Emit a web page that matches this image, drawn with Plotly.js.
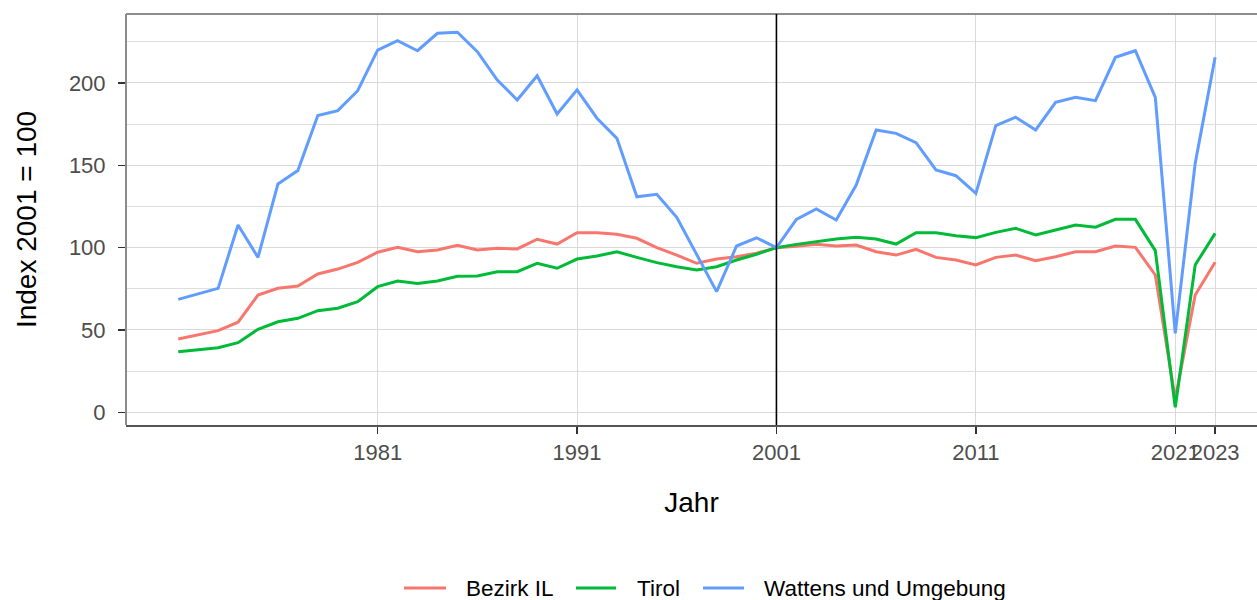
<!DOCTYPE html>
<html>
<head>
<meta charset="utf-8">
<script src="https://cdn.plot.ly/plotly-3.0.1.min.js"></script>
<style>
html, body { margin: 0; padding: 0; background: #fff; }
#chart { width: 1257px; height: 600px; }
</style>
</head>
<body>
<div id="chart"></div>
<script>
const years = [1971,1972,1973,1974,1975,1976,1977,1978,1979,1980,
  1981,1982,1983,1984,1985,1986,1987,1988,1989,1990,
  1991,1992,1993,1994,1995,1996,1997,1998,1999,2000,
  2001,2002,2003,2004,2005,2006,2007,2008,2009,2010,
  2011,2012,2013,2014,2015,2016,2017,2018,2019,2020,
  2021,2022,2023];

const bezirkIL = [44.5,46.9,49.6,54.7,71.2,75.3,76.7,84,87,91.1,
  97.2,100.2,97.5,98.6,101.4,98.6,99.6,99.2,105.1,102.2,
  109.1,109.1,108.1,105.7,100,95.5,90.5,93.1,94.5,96.6,
  100,100.8,102,101,101.6,97.5,95.5,99,94.1,92.5,
  89.5,94.1,95.5,92.1,94.5,97.5,97.5,101,100.2,83.4,
  8,71.2,91.1];

const tirol = [36.8,37.8,39.2,42.3,50.4,55,57.1,61.7,63.2,67.2,
  76.3,79.7,78.3,79.7,82.6,82.8,85.4,85.4,90.5,87.5,
  93.1,94.9,97.5,94.1,90.9,88.4,86.4,88.4,92.5,96,
  100,102,103.6,105.3,106.3,105.3,102.2,109.1,109.1,107.3,
  106.1,109.3,111.7,107.7,110.7,113.8,112.4,117.2,117.2,98.2,
  3,89.5,108.7];

const wattens = [68.6,72,75.3,113.8,94.1,138.7,146.8,180.2,183.2,195.3,
  220,225.7,219.6,230.2,230.8,219,201.8,189.7,204.4,181.2,
  195.8,178.6,166.4,130.9,132.4,118.4,95.5,73.3,101,106,
  100,117.2,123.5,116.8,138,171.5,169.4,163.8,147.2,143.7,
  133,174.1,179.2,171.5,188.3,191.3,189.3,215.6,219.6,191.3,
  48,151.2,215.6];

const seriesNames = ["Bezirk IL", "Tirol", "Wattens und Umgebung"];
const seriesColors = ["#F8766D", "#00BA38", "#619CFF"];
const xTicks = [1981, 1991, 2001, 2011, 2021, 2023];
const yTicks = [0, 50, 100, 150, 200];
const yMinorTicks = [25, 75, 125, 175, 225];
const refYear = 2001;

const font = "Liberation Sans, Arial, sans-serif";
const seriesData = [bezirkIL, tirol, wattens];
const traces = seriesData.map((vals, i) => ({
  x: years, y: vals, type: "scatter", mode: "lines",
  name: seriesNames[i],
  line: { color: seriesColors[i], width: 3 },
  showlegend: false
}));

// Manual bottom legend (ggplot style), positioned in paper coordinates
const W = 1257, H = 600, ML = 126, MR = 0, MT = 14, MB = 175;
const pw = W - ML - MR, ph = H - MT - MB;
const px = p => (p - ML) / pw;
const py = p => (H - MB - p) / ph;
const legendY = 588;
const legendItems = [
  { lx0: 404, lx1: 446, tx: 465 },
  { lx0: 576, lx1: 616, tx: 636 },
  { lx0: 703, lx1: 744, tx: 763 }
];
const legendShapes = legendItems.map((it, i) => ({
  type: "line", xref: "paper", yref: "paper",
  x0: px(it.lx0), x1: px(it.lx1), y0: py(legendY), y1: py(legendY),
  line: { color: seriesColors[i], width: 3 }
}));
const legendAnnots = legendItems.map((it, i) => ({
  xref: "paper", yref: "paper", x: px(it.tx), y: py(legendY),
  xanchor: "left", yanchor: "middle", showarrow: false,
  text: seriesNames[i], borderpad: 0,
  font: { family: font, size: 22.5, color: "#000" }
}));

const layout = {
  width: W, height: H,
  margin: { l: ML, r: MR, t: MT, b: MB, autoexpand: false },
  paper_bgcolor: "#fff", plot_bgcolor: "#fff",
  font: { family: font, color: "#000" },
  showlegend: false,
  xaxis: {
    range: [1968.38, 2025.1],
    automargin: false,
    tickmode: "array", tickvals: xTicks, ticktext: xTicks.map(String),
    tickangle: 0,
    ticks: "outside", ticklen: 7, tickwidth: 1.5, tickcolor: "#333",
    tickfont: { family: font, size: 22, color: "#4D4D4D" },
    showgrid: true, gridcolor: "#D9D9D9", gridwidth: 1,
    zeroline: false,
    showline: true, linecolor: "#555", linewidth: 2,
    title: { text: "Jahr", font: { family: font, size: 28, color: "#000" }, standoff: 28 }
  },
  yaxis: {
    range: [-7.7, 241.9],
    automargin: false,
    tickmode: "array", tickvals: yTicks, ticktext: yTicks.map(String),
    ticks: "outside", ticklen: 7, tickwidth: 1.5, tickcolor: "#333",
    ticklabelstandoff: 8,
    tickfont: { family: font, size: 22, color: "#4D4D4D" },
    showgrid: true, gridcolor: "#D9D9D9", gridwidth: 1,
    minor: { tickmode: "array", tickvals: yMinorTicks, showgrid: true, gridcolor: "#DEDEDE", gridwidth: 1, ticks: "" },
    zeroline: false,
    showline: false,
    title: { text: "Index 2001 = 100", font: { family: font, size: 28, color: "#000" }, standoff: 24 }
  },
  shapes: [
    { type: "line", xref: "paper", yref: "paper", x0: 0, x1: 1.01, y0: 1, y1: 1,
      line: { color: "#8C8C8C", width: 2 } },
    { type: "line", xref: "paper", yref: "paper", x0: 0, x1: 0, y0: 0, y1: 1,
      line: { color: "#8C8C8C", width: 2 } },
    { type: "line", xref: "x", yref: "paper", x0: refYear, x1: refYear, y0: 0, y1: 1,
      line: { color: "#000", width: 1.6 } }
  ].concat(legendShapes),
  annotations: legendAnnots
};

Plotly.newPlot("chart", traces, layout, { displayModeBar: false, staticPlot: true });
</script>
</body>
</html>
